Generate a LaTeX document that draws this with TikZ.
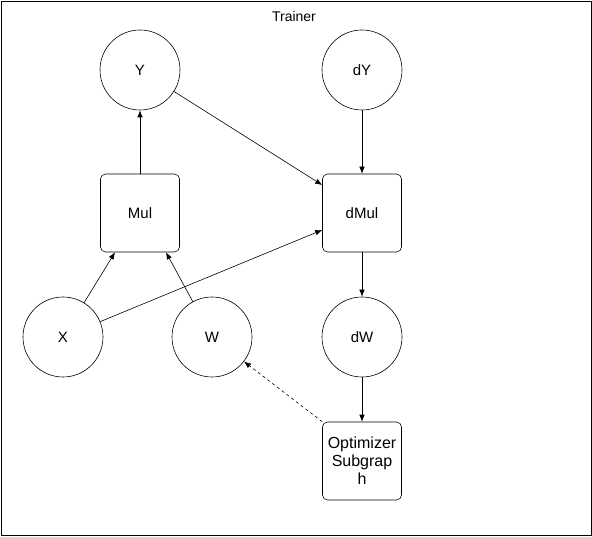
\documentclass[tikz,border=0pt]{standalone}
\usepackage{fontspec}
\setmainfont{Liberation Sans}
\usetikzlibrary{arrows.meta}
\tikzset{
  var/.style={draw,circle,minimum size=80pt,inner sep=0pt},
  op/.style={draw,rounded corners=5pt,minimum width=79pt,minimum height=78pt,inner sep=1pt,align=center},
}
\begin{document}
\begin{tikzpicture}[x=1pt,y=-1pt,>={Latex[length=7pt,width=5.5pt]},line join=bevel,font=\fontsize{15}{18}\selectfont,semithick]
%%
\useasboundingbox (0,0) rectangle (592,537);
\node (trainer) at (1,1) [draw,thick,minimum width=590pt,minimum height=534pt,anchor=north west,inner sep=0pt] {};
\node (title) at (294,16) [font=\fontsize{14}{16}\selectfont] {Trainer};
%
\node (y) at (140,70) [var] {Y};
\node (dy) at (362,70) [var] {dY};
\node (mul) at (140,213) [op] {Mul};
\node (dmul) at (362,213) [op] {dMul};
\node (x) at (63,337) [var] {X};
\node (w) at (212,337) [var] {W};
\node (dw) at (362,337) [var] {dW};
\node (opt) at (362,461) [op,font=\fontsize{16}{18}\selectfont] {Optimizer\\Subgrap\\h};
%
\coordinate (mul_in1) at ([xshift=-25pt]mul.south);
\coordinate (mul_in2) at ([xshift=26pt]mul.south);
\coordinate (dmul_in1) at ([yshift=28pt]dmul.west);
\coordinate (dmul_in2) at ([yshift=-17pt]dmul.west);
%
\draw [->] (mul) -- (y);
\draw [->] (x) -- (mul_in1);
\draw [->] (w) -- (mul_in2);
\draw [->] (y) -- (dmul_in1);
\draw [->] (x) -- (dmul_in2);
\draw [->] (dy) -- (dmul);
\draw [->] (dmul) -- (dw);
\draw [->] (dw) -- (opt);
\draw [->,dashed] (opt.north west) -- (w);
%
\end{tikzpicture}
\end{document}
